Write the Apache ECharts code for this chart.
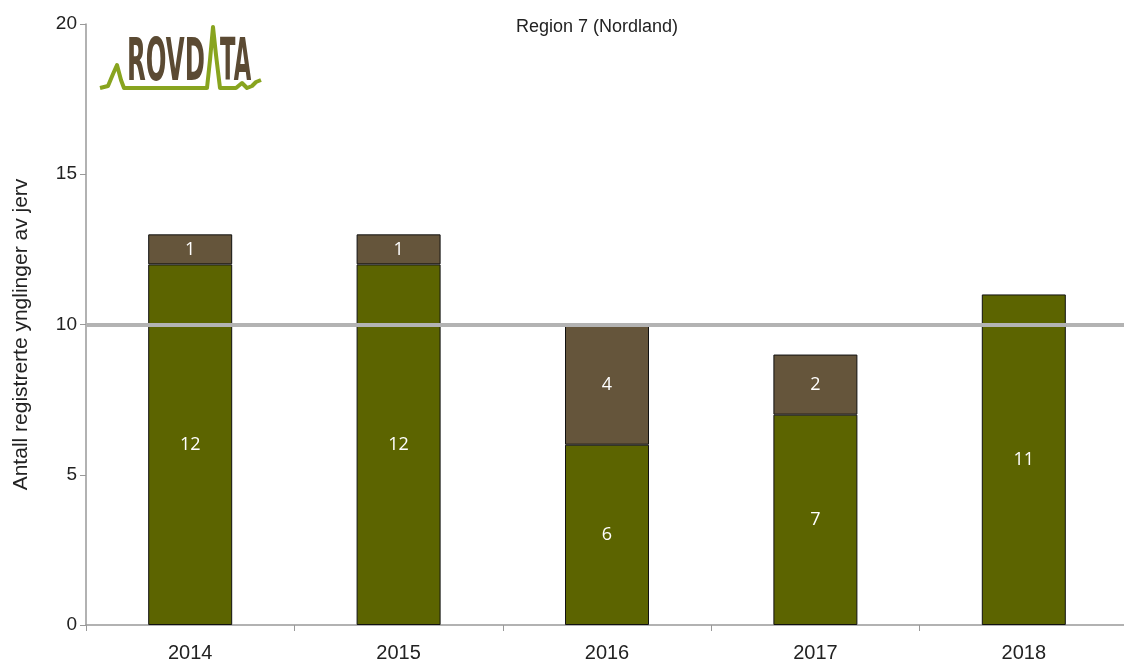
<!DOCTYPE html>
<html>
<head>
<meta charset="utf-8">
<script src="https://cdn.jsdelivr.net/npm/echarts@6/dist/echarts.min.js"></script>
<style>
  html, body { margin: 0; padding: 0; background: #fff; }
  #chart { width: 1124px; height: 663px; }
</style>
</head>
<body>
<div id="chart"></div>
<script>
(function(){
  // År og registrerte ynglinger
  const years = ["2014", "2015", "2016", "2017", "2018"];
  const dokumentert = [12, 12, 6, 7, 11];
  const antatt = [1, 1, 4, 2, null];
  const bestandsmal = 10;
  const yTicks = [0, 5, 10, 15, 20];

  const chart = echarts.init(document.getElementById("chart"));

  const labelStyle = {
    show: true,
    position: "inside",
    color: "#fff",
    fontSize: 18,
    fontFamily: "Open Sans, sans-serif",
    formatter: p => (p.value == null ? "" : p.value)
  };
  const axisFont = "Liberation Sans, Arial";

  const option = {
    animation: false,
    title: {
      text: "Region 7 (Nordland)",
      left: 592, top: 13, textAlign: "center",
      textStyle: { fontSize: 18, fontWeight: "normal", color: "#222", fontFamily: axisFont }
    },
    grid: { left: 86, top: 24, bottom: 38, width: 1042, outerBoundsMode: "none" },
    xAxis: {
      type: "category",
      data: years,
      axisLine: { lineStyle: { color: "#999", width: 1.5 } },
      axisTick: { show: true, length: 6, lineStyle: { color: "#999" } },
      axisLabel: { color: "#222", fontSize: 20, margin: 18, fontFamily: axisFont }
    },
    yAxis: {
      type: "value",
      min: yTicks[0], max: yTicks[yTicks.length - 1], interval: 5,
      name: "Antall registrerte ynglinger av jerv",
      nameLocation: "middle",
      nameGap: 54,
      nameTextStyle: { fontSize: 21, color: "#222", fontFamily: axisFont, padding: [0, 20, 0, 0] },
      axisLine: { show: true, lineStyle: { color: "#999", width: 1.5 } },
      axisTick: { show: true, length: 6, lineStyle: { color: "#999" } },
      axisLabel: { color: "#222", fontSize: 19, margin: 9, fontFamily: axisFont },
      splitLine: { show: false }
    },
    series: [
      {
        name: "Dokumentert",
        type: "bar",
        stack: "sum",
        barWidth: 84,
        data: dokumentert,
        itemStyle: { color: "#5c6400", borderColor: "#111", borderWidth: 1 },
        label: labelStyle,
        markLine: {
          silent: true,
          symbol: "none",
          label: { show: false },
          lineStyle: { color: "#b3b3b3", width: 4, type: "solid" },
          data: [{ yAxis: bestandsmal }],
          z: 10
        }
      },
      {
        name: "Antatt",
        type: "bar",
        stack: "sum",
        barWidth: 84,
        data: antatt,
        itemStyle: { color: "#65553b", borderColor: "#111", borderWidth: 1 },
        label: labelStyle
      }
    ],
    graphic: [
      {
        type: "polyline",
        shape: { points: [[100, 88], [108, 86], [113, 74], [117, 65], [121, 80], [124, 88], [207, 88], [210, 60], [213, 27], [216, 55], [220, 88], [236, 88], [242, 83], [247, 88], [252, 86], [256, 82], [261, 80]] },
        style: { stroke: "#88a41f", lineWidth: 4, fill: null, lineJoin: "round" }
      },
      {
        type: "text",
        x: 127, y: 65, scaleX: 0.42,
        style: { x: 0, y: 0, text: "ROVD", fontSize: 58, fontWeight: "bold", fill: "#5b4a33", fontFamily: "DejaVu Sans", verticalAlign: "middle" }
      },
      {
        type: "text",
        x: 220, y: 65, scaleX: 0.39,
        style: { x: 0, y: 0, text: "TA", fontSize: 58, fontWeight: "bold", fill: "#5b4a33", fontFamily: "DejaVu Sans", verticalAlign: "middle" }
      }
    ]
  };

  chart.setOption(option);
  window.addEventListener("resize", () => chart.resize());
})();
</script>
</body>
</html>
